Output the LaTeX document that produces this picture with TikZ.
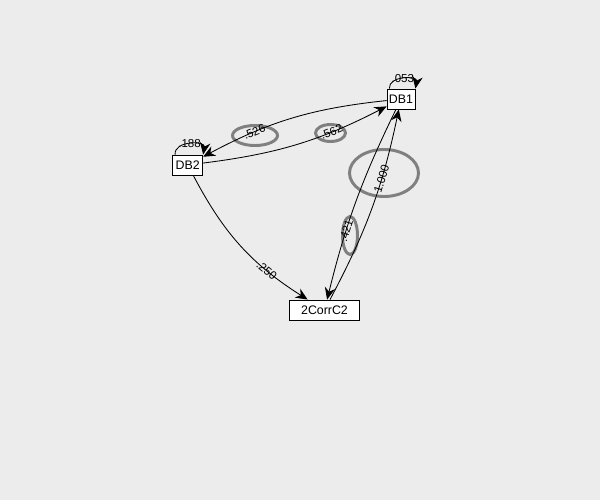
\documentclass[tikz,border=0pt]{standalone}
\usepackage{fontspec}
\setmainfont{Liberation Sans}
\usetikzlibrary{arrows.meta, positioning}
\definecolor{bgGray}{HTML}{ECECEC}
\definecolor{ringGray}{HTML}{808080}
\tikzset{
    dbNode/.style={rectangle, draw=black, fill=white, line width=0.6pt, inner sep=0pt, minimum height=0.5cm, font=\fontsize{8.8}{10}\selectfont},
    arcLine/.style={-{Stealth[length=3mm, width=2.6mm]}, line width=0.6pt, black},
    wLabel/.style={sloped, inner sep=0pt, font=\fontsize{8.2}{9}\selectfont},
    ring/.style={draw=ringGray, line width=2.1pt}
}
\begin{document}
\begin{tikzpicture}[x=0.025cm, y=-0.025cm]

    % Background and frame
    \fill[bgGray] (0,0) rectangle (600,500);
    \useasboundingbox (0,0) rectangle (600,500);

    % Nodes
    \node[dbNode, minimum width=0.7cm]  (DB1)   at (401,99)    {DB1};
    \node[dbNode, minimum width=0.75cm] (DB2)   at (187.7,165) {DB2};
    \node[dbNode, minimum width=1.75cm] (CorrC) at (324.5,310) {2CorrC2};

    % Highlight rings
    \draw[ring] (255,135.5) ellipse [x radius=22.5, y radius=10];
    \draw[ring] (330.5,133) ellipse [x radius=15, y radius=8.5];
    \draw[ring] (384,173)   ellipse [x radius=34.5, y radius=23.5];
    \draw[ring] (350,235.5) ellipse [x radius=7.5, y radius=19];

    % Edges
    \draw[arcLine] (DB1) to[bend right=11] node[wLabel, pos=0.72] {.526} (DB2);
    \draw[arcLine] (DB2) to[bend right=10] node[wLabel, pos=0.7] {.562} (DB1);
    \draw[arcLine] (DB1) to[bend right=6] node[wLabel, pos=0.66] {.421} (CorrC);
    \draw[arcLine] (CorrC) to[bend right=8] node[wLabel, pos=0.66] {1.000} (DB1);
    \draw[arcLine] (DB2) to[bend right=15] node[wLabel, pos=0.72] {.250} (CorrC);

    % Self loops
    \draw[arcLine] ([xshift=2]DB1.north west) to[out=95, in=80, looseness=1.3]
        node[wLabel, midway] {.053} (DB1.north east);
    \draw[arcLine] ([xshift=2]DB2.north west) to[out=95, in=80, looseness=1.3]
        node[wLabel, midway] {.188} (DB2.north east);

\end{tikzpicture}
\end{document}
